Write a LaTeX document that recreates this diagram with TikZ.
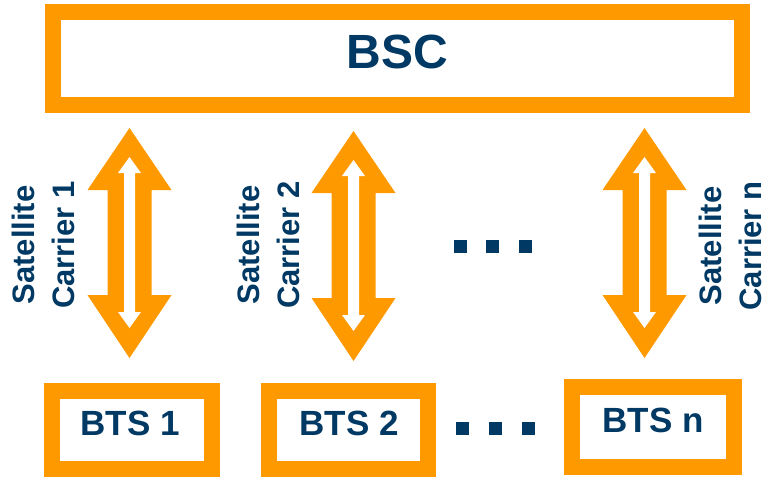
\documentclass[tikz,border=0pt]{standalone}
\usepackage{fontspec}
\setmainfont{Liberation Sans}
\definecolor{orng}{RGB}{255,153,0}
\definecolor{navy}{RGB}{0,57,99}
\begin{document}
\begin{tikzpicture}[x=1pt,y=-1pt,
  box/.style={draw=orng, line width=16pt, fill=white, inner sep=0pt, rectangle},
  lbl/.style={text=navy, font=\bfseries\fontsize{#1}{#1}\selectfont, inner sep=0pt, anchor=base},
  sidelbl/.style={text=navy, font=\bfseries\fontsize{31}{40}\selectfont, align=center, rotate=90, inner sep=0pt},
  dotsq/.style={fill=navy},
  dblarrow/.pic={
    \fill[orng] (0,0) -- (42,62) -- (22,62) -- (22,167) -- (42,167) -- (0,230)
      -- (-42,167) -- (-22,167) -- (-22,62) -- (-42,62) -- cycle;
    \fill[white] (0,29) -- (11.5,45) -- (5.5,45) -- (5.5,184) -- (11.5,184) -- (0,200)
      -- (-11.5,184) -- (-5.5,184) -- (-5.5,45) -- (-11.5,45) -- cycle;
  }]
\useasboundingbox (0,0) rectangle (767,476);

% boxes
\node[box, minimum width=689pt, minimum height=93pt] (bsc) at (397.5,58.5) {};
\node[lbl=48] (bsct) at (397.5,68.5) {BSC};

\node[box, minimum width=160pt, minimum height=78pt] (bts1) at (132,430) {};
\node[lbl=35] (bts1t) at (130,435) {BTS 1};
\node[box, minimum width=159pt, minimum height=78pt] (bts2) at (348.5,430) {};
\node[lbl=35] (bts2t) at (349,435) {BTS 2};
\node[box, minimum width=162pt, minimum height=80pt] (btsn) at (653,427) {};
\node[lbl=35] (btsnt) at (653,432) {BTS n};

% double arrows
\pic at (129.5,128) {dblarrow};
\pic at (353.5,131) {dblarrow};
\pic at (644.5,128) {dblarrow};

% side labels
\node[sidelbl] (l1) at (43.5,245) {Satellite\\Carrier 1};
\node[sidelbl] (l2) at (268.5,245) {Satellite\\Carrier 2};
\node[sidelbl] (ln) at (730.5,246) {Satellite\\Carrier n};

% dots
\foreach \cx in {460,492.5,525} \fill[dotsq] (\cx-6.5,240) rectangle (\cx+6.5,253);
\foreach \cx in {462.5,495,528.5} \fill[dotsq] (\cx-6.5,422) rectangle (\cx+6.5,435);
\end{tikzpicture}
\end{document}
